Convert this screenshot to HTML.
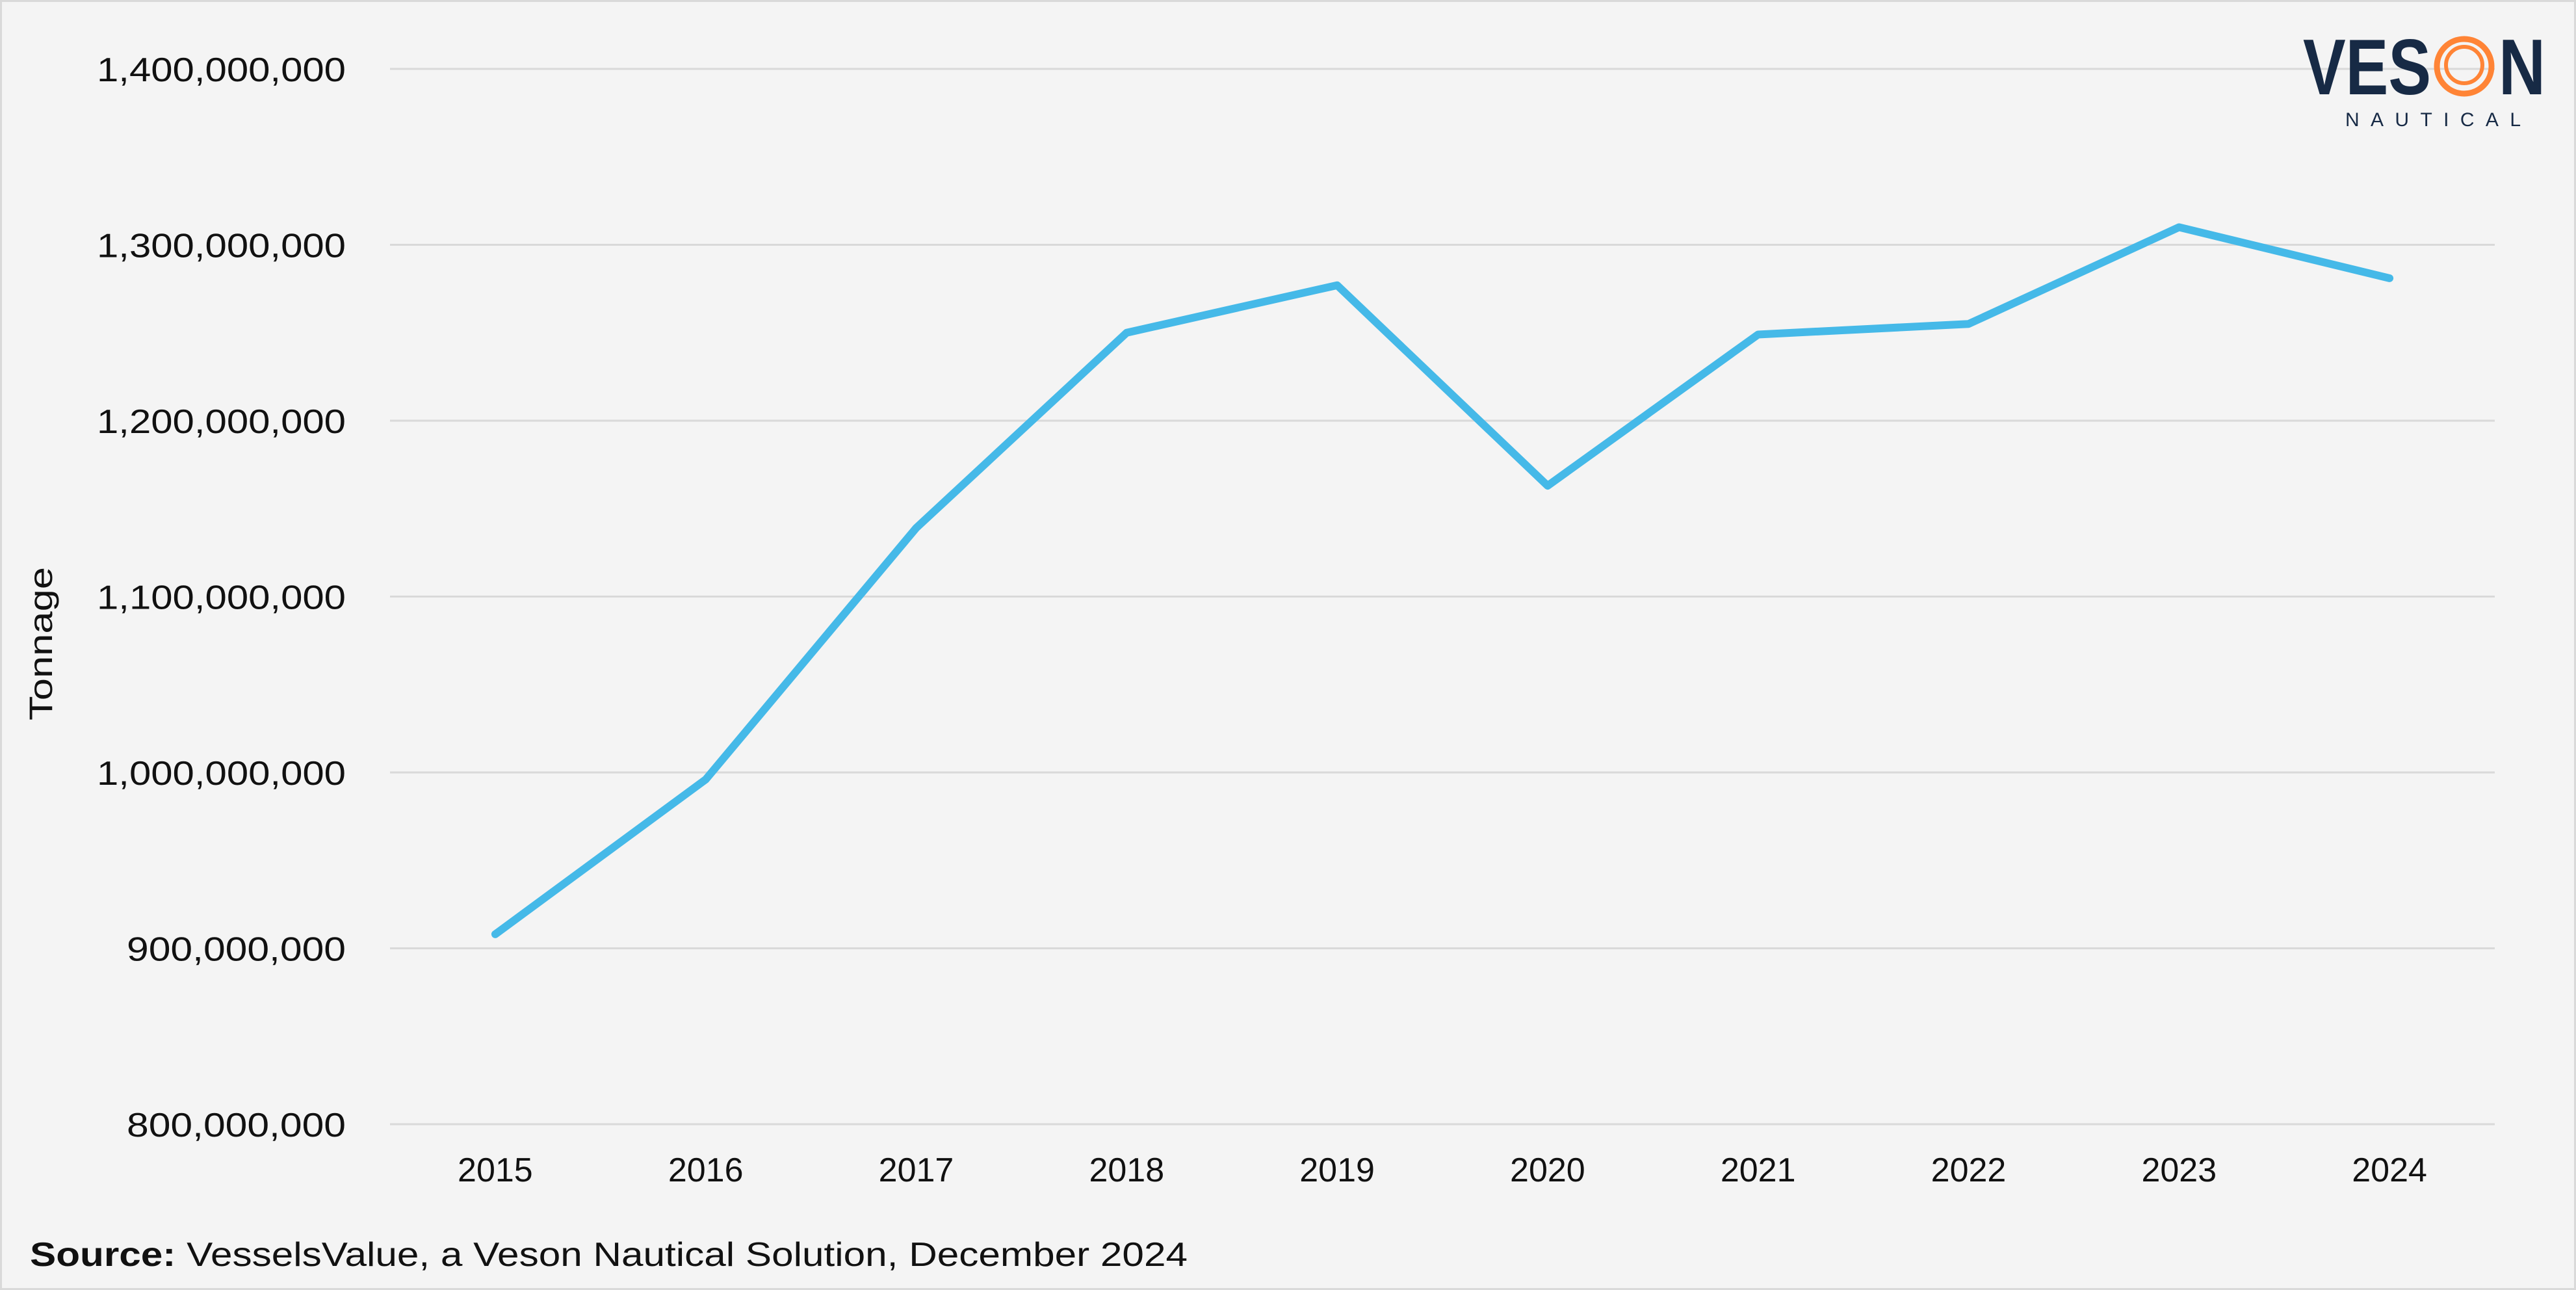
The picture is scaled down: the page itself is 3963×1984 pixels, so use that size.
<!DOCTYPE html>
<html><head><meta charset="utf-8"><style>
html,body{margin:0;padding:0;background:#f4f4f4;}
svg{display:block;font-family:"Liberation Sans",sans-serif;}
</style></head><body>
<svg id="chart" width="3963" height="1984" viewBox="0 0 3963 1984" xmlns="http://www.w3.org/2000/svg">
<rect x="1.5" y="1.5" width="3960" height="1981" fill="#f4f4f4" stroke="#d9d9d9" stroke-width="3"/>
<g id="grid"></g>
<g id="yticks"></g>
<g id="xticks"></g>
<text transform="translate(80,990) rotate(-90)" text-anchor="middle" font-size="50" fill="#111" textLength="236" lengthAdjust="spacingAndGlyphs">Tonnage</text>
<g id="series"></g>
<text x="46" y="1947" font-size="52" fill="#111" textLength="1781" lengthAdjust="spacingAndGlyphs"><tspan font-weight="bold">Source:</tspan> VesselsValue, a Veson Nautical Solution, December 2024</text>
<g>
<text x="3543" y="145" font-size="122" font-weight="bold" fill="#172a45" textLength="197" lengthAdjust="spacingAndGlyphs">VES</text>
<circle cx="3791" cy="102" r="42" fill="none" stroke="#ff8436" stroke-width="9"/>
<circle cx="3791" cy="100" r="28" fill="none" stroke="#ff8436" stroke-width="6"/>
<text x="3844" y="145" font-size="122" font-weight="bold" fill="#172a45" textLength="72" lengthAdjust="spacingAndGlyphs">N</text>
<text x="3608" y="194" font-size="30" fill="#172a45" textLength="270" lengthAdjust="spacing">NAUTICAL</text>
</g>
</svg>
<script>
const categories = ["2015","2016","2017","2018","2019","2020","2021","2022","2023","2024"];
const tonnage = [908000000, 996000000, 1139000000, 1250000000, 1277000000, 1163000000, 1249000000, 1255000000, 1310000000, 1281000000];
const yTicks = [800000000, 900000000, 1000000000, 1100000000, 1200000000, 1300000000, 1400000000];
const yTickLabels = ["800,000,000","900,000,000","1,000,000,000","1,100,000,000","1,200,000,000","1,300,000,000","1,400,000,000"];

const NS = "http://www.w3.org/2000/svg";
const plotL = 600, plotR = 3838, plotT = 106, plotB = 1729;
const yMin = 800000000, yMax = 1400000000;
function yScale(v){ return plotB - (v - yMin) / (yMax - yMin) * (plotB - plotT); }
function xScale(i){ const w = (plotR - plotL) / categories.length; return plotL + w * (i + 0.5); }
function labelWidth(s){ let w = 0; for (const ch of s) w += (ch === ',') ? 11 : 35; return w; }

const grid = document.getElementById('grid');
const yt = document.getElementById('yticks');
yTicks.forEach((v, i) => {
  const y = yScale(v);
  const ln = document.createElementNS(NS, 'line');
  
  
  ln.setAttribute('x1', plotL); ln.setAttribute('x2', plotR);
  ln.setAttribute('y1', y); ln.setAttribute('y2', y);
  ln.setAttribute('stroke', '#d9d9d9'); ln.setAttribute('stroke-width', '3');
  grid.appendChild(ln);
  const t = document.createElementNS(NS, 'text');
  
  
  t.setAttribute('x', 532); t.setAttribute('y', y + 19);
  t.setAttribute('text-anchor', 'end'); t.setAttribute('font-size', '52'); t.setAttribute('fill', '#111');
  t.setAttribute('textLength', labelWidth(yTickLabels[i]));
  t.setAttribute('lengthAdjust', 'spacingAndGlyphs');
  t.textContent = yTickLabels[i];
  yt.appendChild(t);
});

const xt = document.getElementById('xticks');
categories.forEach((c, i) => {
  const t = document.createElementNS(NS, 'text');
  
  
  t.setAttribute('x', xScale(i)); t.setAttribute('y', 1817);
  t.setAttribute('text-anchor', 'middle'); t.setAttribute('font-size', '52'); t.setAttribute('fill', '#111');
  t.textContent = c;
  xt.appendChild(t);
});

const series = document.getElementById('series');
const pl = document.createElementNS(NS, 'polyline');


pl.setAttribute('points', tonnage.map((v, i) => xScale(i) + ',' + yScale(v)).join(' '));
pl.setAttribute('fill', 'none'); pl.setAttribute('stroke', '#45b9e8');
pl.setAttribute('stroke-width', '12'); pl.setAttribute('stroke-linejoin', 'round'); pl.setAttribute('stroke-linecap', 'round');
series.appendChild(pl);
</script>
</body></html>
